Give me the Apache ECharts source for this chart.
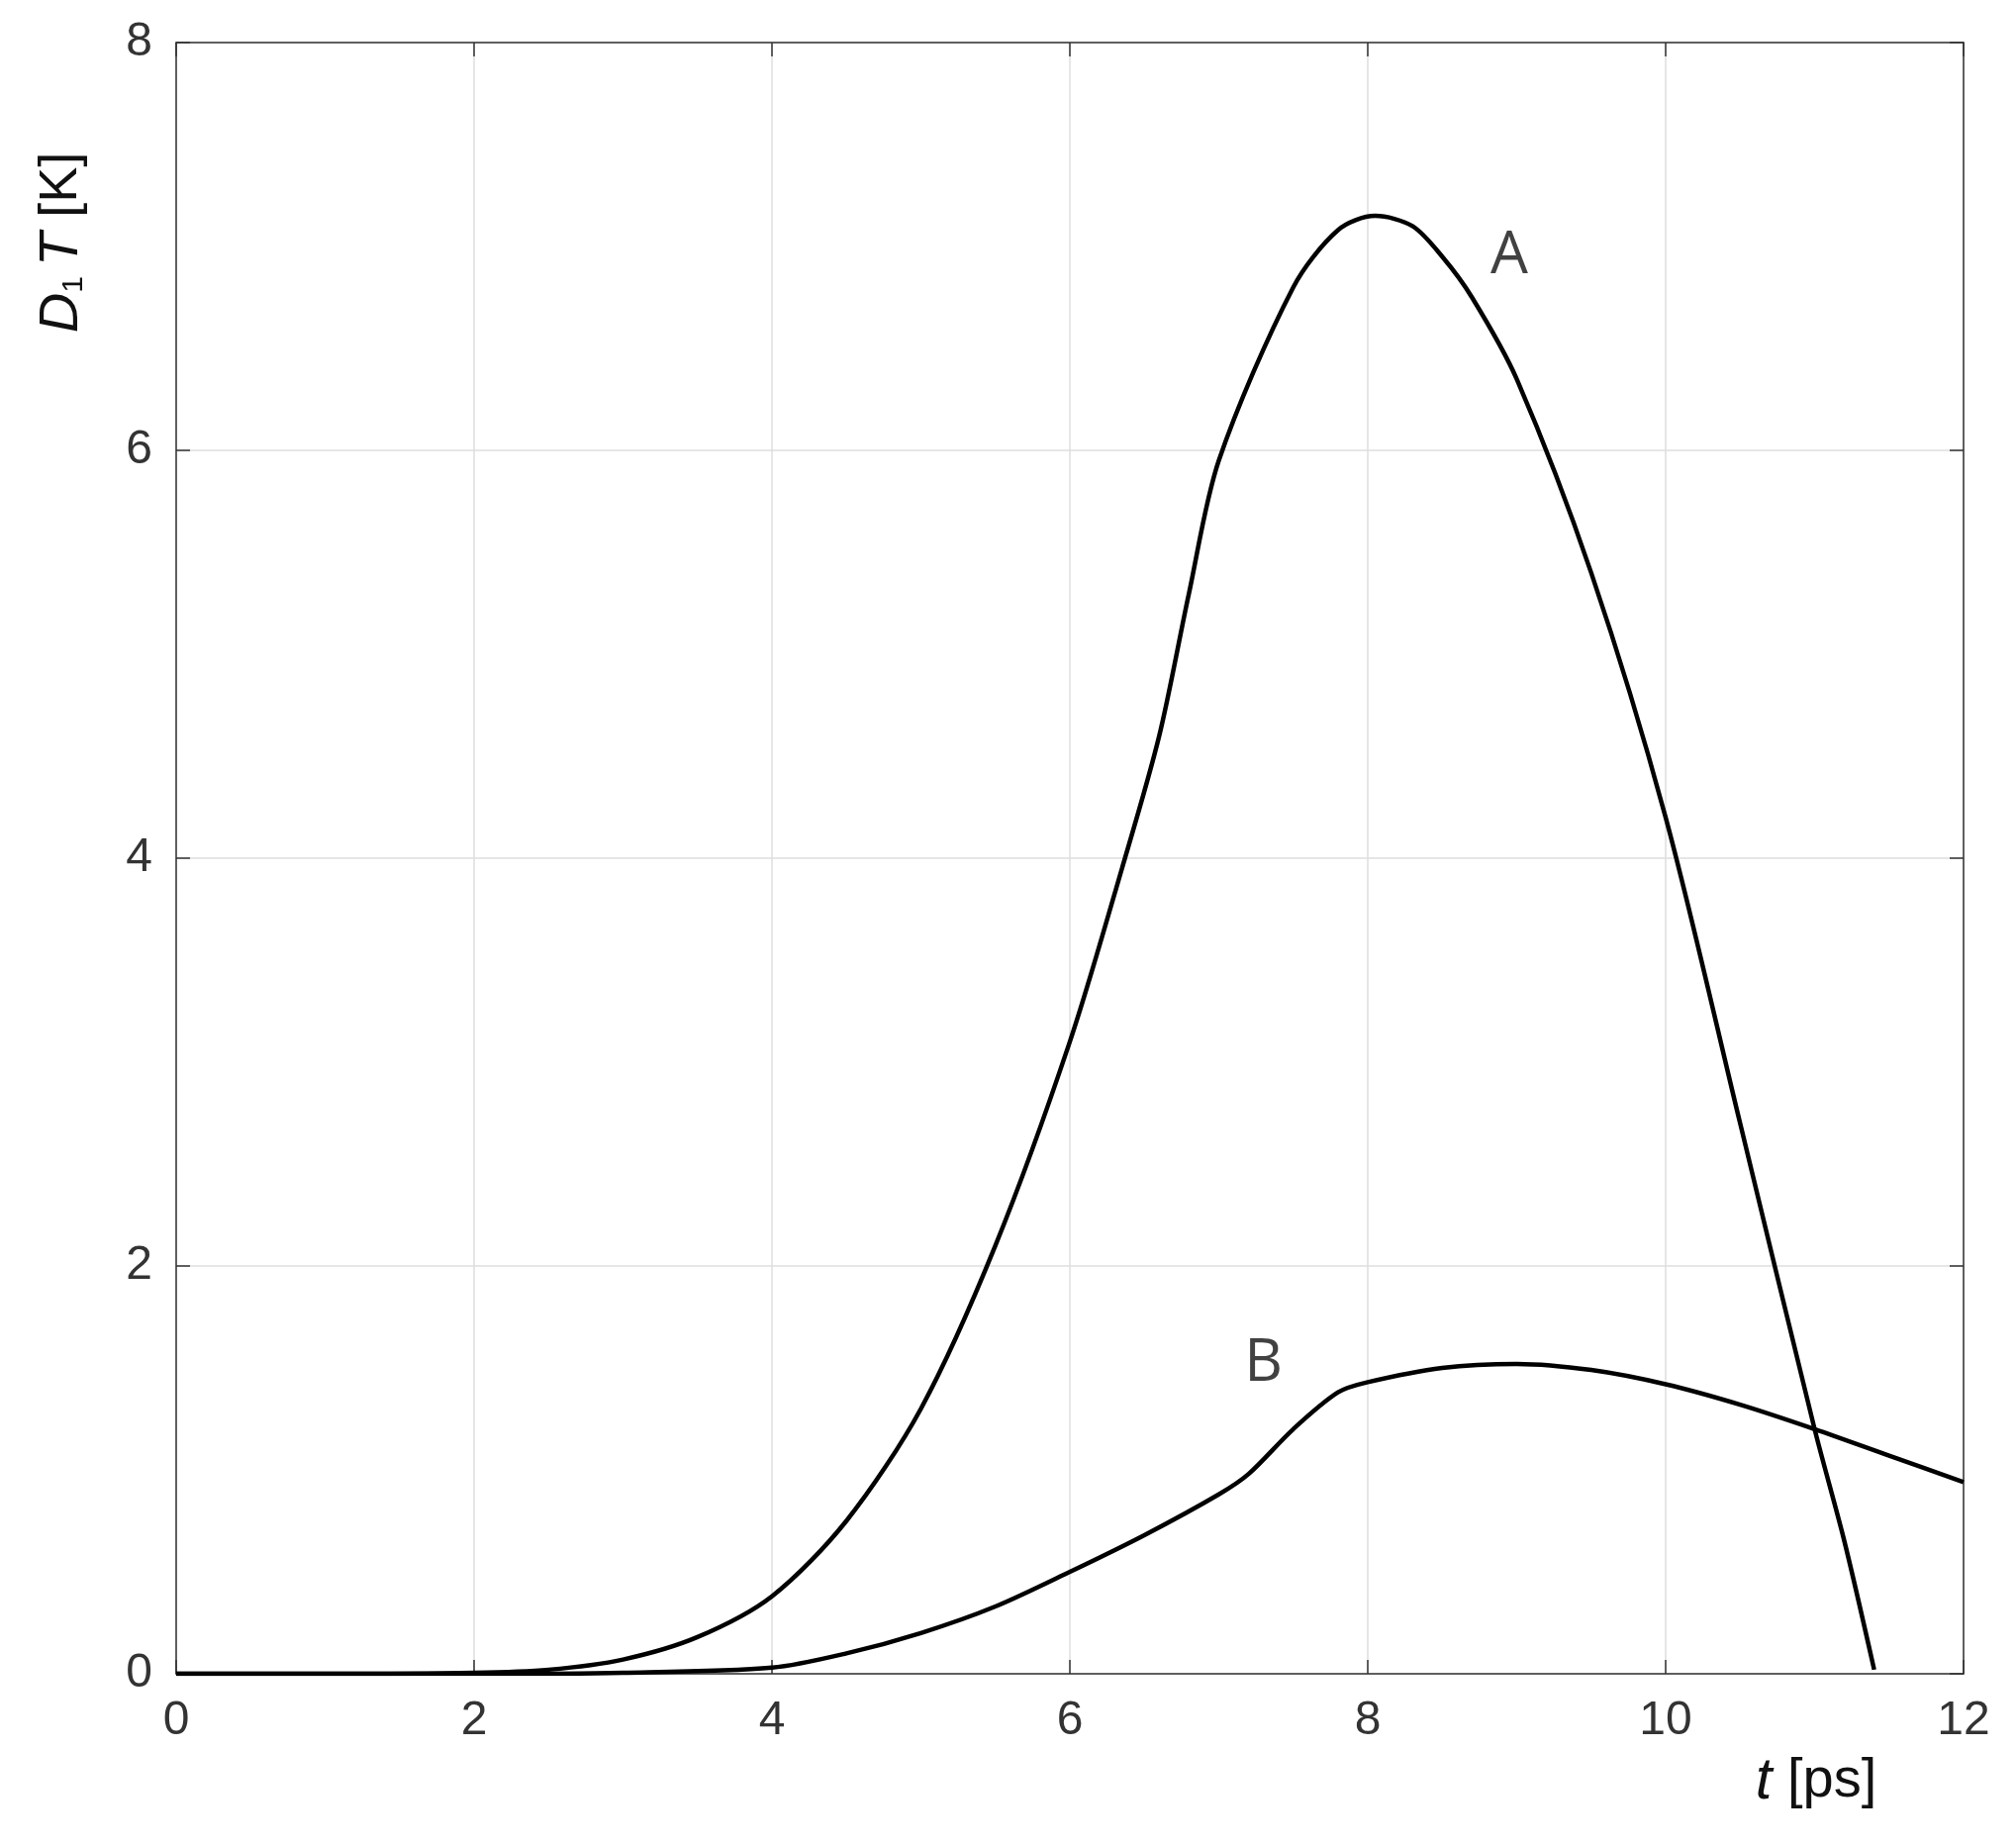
<!DOCTYPE html>
<html><head><meta charset="utf-8">
<script src="https://cdn.jsdelivr.net/npm/echarts@6/dist/echarts.min.js"></script>
<style>html,body{margin:0;background:#fff}#c{width:2037px;height:1866px}</style>
</head><body><div id="c"></div>
<script>
// curve A
var curveA = [[0,0],[1,0],[2,0.005],[2.5,0.02],[3,0.07],[3.5,0.18],[4,0.38],[4.5,0.75],[5,1.3],[5.5,2.1],[6,3.1],[6.35,3.95],[6.6,4.6],[6.8,5.3],[7,5.95],[7.5,6.8],[7.8,7.08],[8.05,7.15],[8.3,7.1],[8.5,6.95],[8.7,6.75],[9,6.35],[9.5,5.4],[10,4.2],[10.5,2.7],[11,1.2],[11.2,0.65],[11.4,0.02]];
// curve B
var curveB = [[0,0],[2,0],[3,0.005],[4,0.03],[4.5,0.1],[5,0.2],[5.5,0.33],[6,0.5],[6.5,0.68],[7,0.88],[7.2,0.98],[7.5,1.2],[7.8,1.38],[8,1.43],[8.5,1.5],[9,1.52],[9.5,1.49],[10,1.42],[10.5,1.32],[11,1.2],[11.5,1.07],[12,0.94]];
var labelsAB = [['A',8.95,6.95],['B',7.3,1.52]];

var chart = echarts.init(document.getElementById('c'));
var ax = {
  axisLine:{show:true,onZero:false,lineStyle:{color:'#333',width:1.5}},
  axisTick:{show:true,inside:true,length:14,lineStyle:{color:'#333',width:1.5}}
};
chart.setOption({
  animation:false,
  grid:{left:178,right:53,top:43,bottom:175,outerBoundsMode:'none'},
  xAxis:[
    Object.assign({type:'value',min:0,max:12,interval:2,
      axisLabel:{fontSize:48,color:'#333',margin:24,fontFamily:'Liberation Sans'},
      splitLine:{show:true,lineStyle:{color:'#dedede',width:1.5}}},ax),
    Object.assign({type:'value',min:0,max:12,interval:2,position:'top',axisLabel:{show:false},splitLine:{show:false}},ax)
  ],
  yAxis:[
    Object.assign({type:'value',min:0,max:8,interval:2,
      axisLabel:{fontSize:48,color:'#333',margin:24,fontFamily:'Liberation Sans'},
      splitLine:{show:true,lineStyle:{color:'#dedede',width:1.5}}},ax),
    Object.assign({type:'value',min:0,max:8,interval:2,position:'right',axisLabel:{show:false},splitLine:{show:false}},ax)
  ],
  graphic:[
    {type:'text',x:1835,y:1800,style:{text:'{i|t} [ps]',fill:'#111',font:'56px "Liberation Sans"',align:'center',verticalAlign:'middle',
      rich:{i:{fontStyle:'italic',fontSize:60,fontFamily:'Liberation Sans'}}}},
    {type:'text',x:62,y:245,rotation:Math.PI/2,style:{text:'{i|D}{s|1}{i|T} [K]',fill:'#111',font:'54px "Liberation Sans"',align:'center',verticalAlign:'middle',
      rich:{i:{fontStyle:'italic',fontSize:56,fontFamily:'Liberation Sans'},s:{fontSize:30,verticalAlign:'bottom',padding:[22,10,0,0]}}}}
  ],
  series:[
    {type:'line',data:curveA,smooth:0.3,showSymbol:false,lineStyle:{color:'#000',width:4.5}},
    {type:'line',data:curveB,smooth:0.3,showSymbol:false,lineStyle:{color:'#000',width:4.5}},
    {type:'scatter',symbolSize:0,data:labelsAB.map(function(d){return {value:[d[1],d[2]],name:d[0]};}),
      label:{show:true,formatter:'{b}',fontSize:60,color:'#111',fontFamily:'Open Sans',position:'inside'}}
  ]
});
</script></body></html>
